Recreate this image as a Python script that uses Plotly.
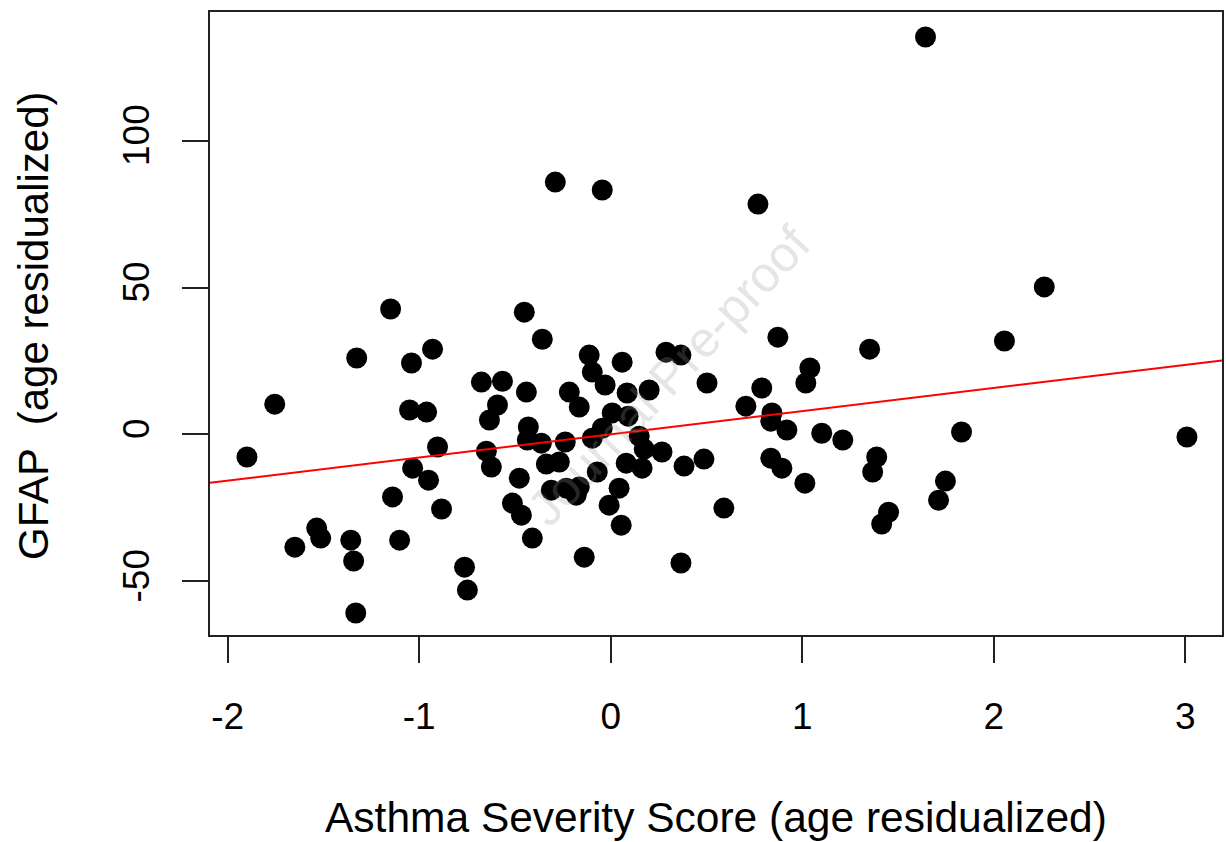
import plotly.graph_objects as go

# ---- data ----
asthma_severity = [1.644, -0.289, -0.044, 0.769, 2.264, 2.056, -1.149, -0.451, -0.357, -1.326,
                   -1.040, -0.930, -1.754, -1.899, 0.873, 1.352, 1.040, 1.019, 3.009, 1.832,
                   1.102, 1.212, 1.389, 1.368, 1.748, 1.712, 1.451, 1.415, 1.014, 0.591,
                   0.367, -0.138, -1.649, -1.535, -1.514, -1.357, -1.342, -1.331, -0.763, -0.748,
                   -1.102, -1.139, -0.883, -0.904, -0.951, -1.034, -1.050, -0.961,
                   -0.112, 0.060, -0.675, -0.565, -0.440, -0.216, -0.164, -0.096, -0.029, 0.086,
                   -0.591, -0.633, -0.430, -0.435, -0.362, -0.237, -0.096, 0.008, 0.091, -0.649,
                   -0.623, -0.336, -0.268, -0.070, 0.081, -0.477, -0.310, -0.232, -0.164, -0.180,
                   0.044, -0.008, 0.055, -0.513, -0.466, -0.409, 0.289, 0.367, 0.503, 0.789,
                   0.201, 0.706, 0.842, 0.836, 0.920, 0.149, 0.175, 0.268, 0.383, 0.487,
                   0.836, 0.894, 0.164, -0.044]

gfap = [135.3, 85.9, 83.2, 78.4, 50.2, 31.8, 42.7, 41.6, 32.4, 26.0,
        24.3, 29.0, 10.3, -7.7, 33.1, 29.0, 22.6, 17.5, -0.9, 0.8,
        0.4, -1.9, -7.7, -12.8, -15.9, -22.4, -26.5, -30.5, -16.6, -25.1,
        -43.8, -41.8, -38.4, -31.9, -35.3, -36.0, -43.1, -60.8, -45.2, -53.0,
        -36.0, -21.3, -25.4, -4.3, -15.6, -11.5, 8.3, 7.6,
        27.0, 24.6, 17.8, 18.1, 14.4, 14.4, 9.3, 21.2, 16.8, 14.1,
        10.0, 4.9, 2.5, -1.9, -3.0, -2.6, -1.3, 7.3, 6.2, -5.7,
        -11.1, -10.1, -9.4, -12.8, -9.8, -14.9, -19.0, -18.3, -17.9, -20.7,
        -18.3, -24.1, -30.9, -23.4, -27.5, -35.3, 28.0, 27.0, 17.5, 15.8,
        15.1, 9.6, 7.3, 4.5, 1.5, -0.6, -5.0, -6.0, -10.8, -8.4,
        -8.1, -11.5, -11.5, 2.1]

fit_intercept = 0.0
fit_slope = 7.89

x_tickvals = [-2, -1, 0, 1, 2, 3]
x_ticktext = ["-2", "-1", "0", "1", "2", "3"]
y_tickvals = [-50, 0, 50, 100]
y_ticktext = ["-50", "0", "50", "100"]

x_title = "Asthma Severity Score (age residualized)"
y_title = "GFAP  (age residualized)"
watermark = "Journal Pre-proof"

# axis ranges (R style 4% padding)
x_range = [-2.092, 3.192]
y_range = [-68.3, 143.8]

FONT = "Liberation Sans, Arial, Helvetica, sans-serif"

fig = go.Figure()
fig.add_trace(go.Scatter(
    x=asthma_severity, y=gfap, mode="markers",
    marker=dict(color="black", size=21, line=dict(width=0)),
    showlegend=False, hoverinfo="x+y"))

line_x = list(x_range)
line_y = [fit_intercept + fit_slope * v for v in line_x]
fig.add_trace(go.Scatter(
    x=line_x, y=line_y, mode="lines",
    line=dict(color="red", width=2),
    showlegend=False, hoverinfo="skip"))

axis_common = dict(
    showline=True, mirror=True, linecolor="#222222", linewidth=2,
    showgrid=False, zeroline=False,
    ticks="outside", ticklen=26, tickwidth=1.5, tickcolor="#222222",
    tickfont=dict(family=FONT, size=37, color="black"),
)

fig.update_xaxes(range=x_range, tickmode="array", tickvals=x_tickvals,
                 ticktext=x_ticktext, ticklabelstandoff=22, **axis_common)
fig.update_yaxes(range=y_range, tickmode="array", tickvals=y_tickvals,
                 ticktext=y_ticktext, tickangle=-90, ticklabelstandoff=18,
                 **axis_common)

fig.add_annotation(text=x_title, xref="paper", yref="paper",
                   x=0.5, y=-0.2937, xanchor="center", yanchor="middle",
                   showarrow=False, font=dict(family=FONT, size=42.5, color="black"))
fig.add_annotation(text=y_title, xref="paper", yref="paper",
                   x=-0.174, y=0.496, xanchor="center", yanchor="middle",
                   textangle=-90, showarrow=False,
                   font=dict(family=FONT, size=42, color="black"))
fig.add_annotation(text=watermark, xref="paper", yref="paper",
                   x=0.4536, y=0.415, xanchor="center", yanchor="middle",
                   textangle=-47, showarrow=False,
                   font=dict(family=FONT, size=50, color="rgba(150,150,150,0.25)"))

fig.update_layout(
    width=1226, height=842,
    margin=dict(l=210, r=2, t=12, b=207),
    paper_bgcolor="white", plot_bgcolor="white",
    font=dict(family=FONT, color="black"),
)

fig.write_html("out.html", config={"displayModeBar": False},
               post_script="document.body.style.margin='0';document.body.style.overflow='hidden';")
